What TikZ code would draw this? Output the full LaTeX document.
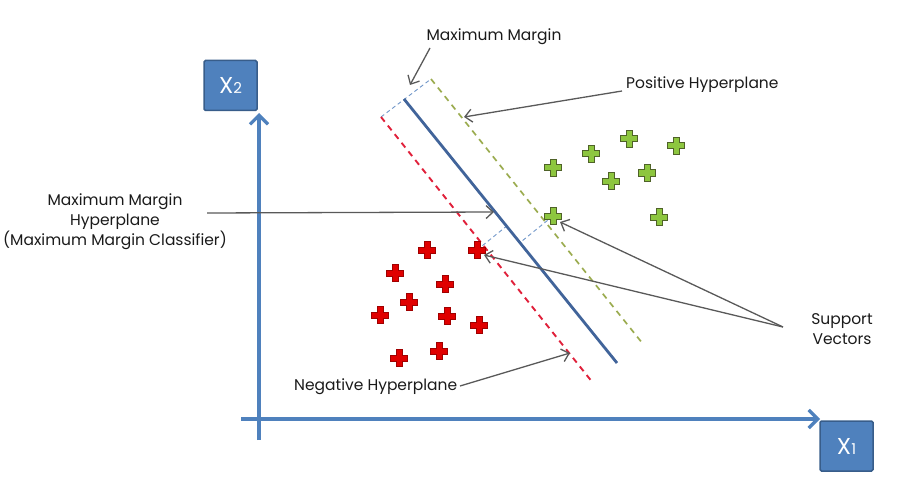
\documentclass[tikz,border=0pt]{standalone}
\usepackage{fontspec}
\setmainfont{Poppins}
\usetikzlibrary{arrows.meta,calc}
\definecolor{axisblue}{HTML}{4F81BD}
\definecolor{boxedge}{HTML}{385D8A}
\definecolor{hypblue}{HTML}{41649A}
\definecolor{posgreen}{HTML}{9AAB4E}
\definecolor{negred}{HTML}{E0203A}
\definecolor{thinblue}{HTML}{7096C8}
\definecolor{arrowgray}{HTML}{595959}
\definecolor{txt}{HTML}{1A1A1A}
\definecolor{gfill}{HTML}{8DC63F}
\definecolor{gedge}{HTML}{4F6228}
\definecolor{rfill}{HTML}{E00000}
\definecolor{redge}{HTML}{A00000}
\tikzset{
  axisline/.style={draw=axisblue, line width=3.2pt, -{Straight Barb[length=9pt,width=18pt,line width=3.2pt]}},
  axisbox/.style={draw=boxedge, fill=axisblue, line width=1.5pt, rounded corners=1.5pt, minimum width=53pt, minimum height=50pt, inner sep=0pt, text=white, font=\fontsize{23}{25}\selectfont},
  lbl/.style={text=txt, font=\fontsize{15.5}{20}\selectfont, inner sep=0pt, align=center},
  pointer/.style={draw=arrowgray, line width=1.3pt, -{Straight Barb[length=7pt,width=13pt,line width=1.3pt]}},
  hyperplane/.style={draw=hypblue, line width=2.8pt},
  posplane/.style={draw=posgreen, line width=1.7pt, dash pattern=on 6pt off 5pt},
  negplane/.style={draw=negred, line width=1.9pt, dash pattern=on 6pt off 5pt},
  margindash/.style={draw=thinblue, line width=0.9pt, dash pattern=on 4pt off 3pt},
  plusmark/.pic={\path[pic actions] (-3,-8.5)--(3,-8.5)--(3,-3)--(8.5,-3)--(8.5,3)--(3,3)--(3,8.5)--(-3,8.5)--(-3,3)--(-8.5,3)--(-8.5,-3)--(-3,-3)--cycle;},
  gplus/.style={fill=gfill, draw=gedge, line width=1pt},
  rplus/.style={fill=rfill, draw=redge, line width=0.8pt}
}
\begin{document}
\begin{tikzpicture}[x=1pt,y=-1pt]
\useasboundingbox (0,0) rectangle (897,484);
% axes
\coordinate (yb) at (259,440);
\coordinate (yt) at (259,113);
\coordinate (xl) at (241,419);
\coordinate (xr) at (820,419);
\draw[axisline] (yb) -- (yt);
\draw[axisline] (xl) -- (xr);
\node[axisbox] (x2) at (230.5,85.5) {X{\fontsize{15}{16}\selectfont 2}};
\node[axisbox] (x1) at (846.5,446) {X{\fontsize{15}{16}\selectfont 1}};
% hyperplanes
\coordinate (sA) at (404,99);  \coordinate (sB) at (617,363);
\coordinate (gA) at (431,79);  \coordinate (gB) at (643,344);
\coordinate (rA) at (381,117); \coordinate (rB) at (593,383);
\coordinate (rsv) at (477,250);
\coordinate (gsv) at (553,216);
\draw[margindash] (rA) -- (gA);
\draw[margindash] (rsv) -- ($(sA)!(rsv)!(sB)$);
\draw[margindash] (gsv) -- ($(sA)!(gsv)!(sB)$);
\draw[negplane] (rA) -- (rB);
\draw[posplane] (gA) -- (gB);
\draw[hyperplane] (sA) -- (sB);
% points
\foreach \p in {(427,250),(395,273),(445,284),(409,302),(380,315),(447,316),(479,325),(439,351),(399,358)}
  \pic[rplus] at \p {plusmark};
\pic[rplus] at (rsv) {plusmark};
\foreach \p in {(629,139),(676,146),(591,154),(553,168),(647,173),(611,181),(659,217)}
  \pic[gplus] at \p {plusmark};
\pic[gplus] at (gsv) {plusmark};
% labels
\node[lbl] (mm) at (494,37) {Maximum Margin};
\node[lbl, anchor=west] (pos) at (626,85) {Positive Hyperplane};
\node[lbl] (mmh) at (115,222) {Maximum Margin\\Hyperplane\\(Maximum Margin Classifier)};
\node[lbl, anchor=west] (neg) at (294,387) {Negative Hyperplane};
\node[lbl] (sv) at (842,329) {Support\\Vectors};
% pointer ends
\coordinate (mmfrom) at (430,48);   \coordinate (mmtip) at (410,85);
\coordinate (posfrom) at (622,91);  \coordinate (postip) at (464,117);
\coordinate (mmhfrom) at (207,213); \coordinate (mmhtip) at (494,212);
\coordinate (negfrom) at (460,386); \coordinate (negtip) at (570,353);
\coordinate (svfrom) at (783,327);
\coordinate (gsvtip) at (560,222);
\coordinate (rsvtip) at (484,255);
\draw[pointer] (mmfrom) -- (mmtip);
\draw[pointer] (posfrom) -- (postip);
\draw[pointer] (mmhfrom) -- (mmhtip);
\draw[pointer] (negfrom) -- (negtip);
\draw[pointer] (svfrom) -- (gsvtip);
\draw[pointer] (svfrom) -- (rsvtip);
\end{tikzpicture}
\end{document}
